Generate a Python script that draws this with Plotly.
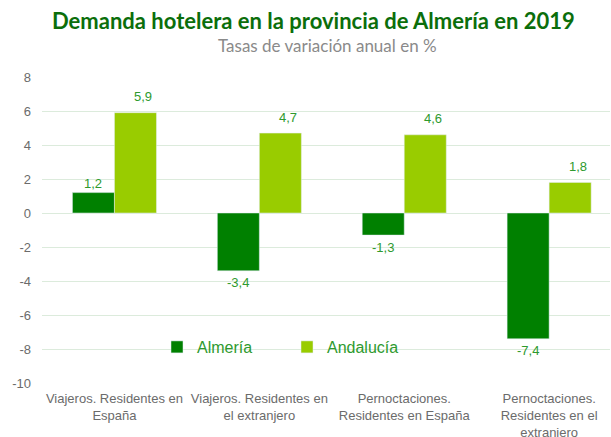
import plotly.graph_objects as go

categories = [
    "Viajeros. Residentes en<br>España",
    "Viajeros. Residentes en<br>el extranjero",
    "Pernoctaciones.<br>Residentes en España",
    "Pernoctaciones.<br>Residentes en el<br>extraniero",
]
almeria = [1.2, -3.4, -1.3, -7.4]
andalucia = [5.9, 4.7, 4.6, 1.8]
y_ticks = [8, 6, 4, 2, 0, -2, -4, -6, -8, -10]

C_ALM = "#008000"
C_AND = "#99cc00"
C_LBL = "#2e9a2e"
C_GRID = "#dcebdc"
C_TICK = "#6b6b6b"
FONT = "Arial"

L, R, T, B = 42, 1, 77, 54
W, H = 611, 437
PW, PH = W - L - R, H - T - B


def fmt(v):
    return f"{v:.1f}".replace(".", ",")


def px_x(x):
    return (x - L) / PW


def px_y(y):
    return (H - B - y) / PH


fig = go.Figure()
fig.add_trace(go.Bar(name="Almería", x=categories, y=almeria, marker_color=C_ALM))
fig.add_trace(go.Bar(name="Andalucía", x=categories, y=andalucia, marker_color=C_AND))

for c, v in zip(categories, almeria):
    fig.add_annotation(
        x=c, y=v, xref="x", yref="y", text=fmt(v), showarrow=False,
        xshift=-21, yshift=9 if v >= 0 else -12, yanchor="middle",
        font=dict(family=FONT, size=13, color=C_LBL),
    )
for c, v in zip(categories, andalucia):
    fig.add_annotation(
        x=c, y=v, xref="x", yref="y", text=fmt(v), showarrow=False,
        xshift=29, yshift=16, yanchor="middle",
        font=dict(family=FONT, size=13, color=C_LBL),
    )

fig.add_annotation(
    xref="paper", yref="paper", x=px_x(313), y=px_y(20),
    text="<b>Demanda hotelera en la provincia de Almería en 2019</b>",
    showarrow=False, xanchor="center", yanchor="middle",
    font=dict(family="Lato", size=22, color="#0b6e0b"),
)
fig.add_annotation(
    xref="paper", yref="paper", x=px_x(327), y=px_y(46),
    text="Tasas de variación anual en %",
    showarrow=False, xanchor="center", yanchor="middle",
    font=dict(family="Lato", size=17, color="#8a8a8a"),
)

fig.update_layout(
    width=W, height=H,
    margin=dict(l=L, r=R, t=T, b=B, autoexpand=False),
    paper_bgcolor="white", plot_bgcolor="white",
    barmode="group", bargap=0.42, bargroupgap=0,
    showlegend=True,
    legend=dict(
        orientation="h", x=px_x(157), y=px_y(347), xanchor="left", yanchor="middle",
        bgcolor="rgba(0,0,0,0)",
        font=dict(family=FONT, size=16, color=C_LBL),
        entrywidth=85, entrywidthmode="pixels", itemwidth=30,
    ),
    xaxis=dict(
        range=[-0.5, 3.42], showgrid=False, showline=False, zeroline=False,
        tickfont=dict(family=FONT, size=13, color=C_TICK),
        ticks="", ticklabelstandoff=6, automargin=False,
    ),
    yaxis=dict(
        range=[-10, 8], tickvals=y_ticks, ticktext=[str(t) for t in y_ticks],
        showgrid=True, gridcolor=C_GRID, gridwidth=1,
        zeroline=True, zerolinecolor=C_GRID, zerolinewidth=1,
        showline=False, ticks="", ticklabelstandoff=10, automargin=False,
        tickfont=dict(family=FONT, size=13, color=C_TICK),
    ),
)

fig.write_html(
    "out.html",
    config={"displayModeBar": False},
    post_script="document.body.style.margin='0';document.body.style.overflow='hidden';",
)
